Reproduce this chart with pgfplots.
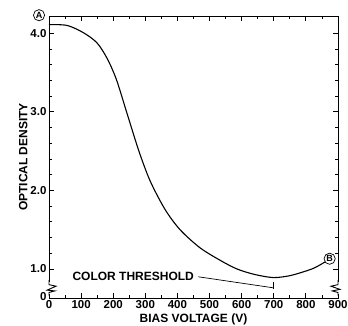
\documentclass[border=0pt]{standalone}
\usepackage{fontspec}
\setmainfont{Liberation Sans}
\usepackage{pgfplots}
\pgfplotsset{compat=1.18}
\begin{document}
\begin{tikzpicture}[font=\fontsize{12}{14}\selectfont\bfseries]
  \begin{axis}[
    scale only axis,
    width=289pt, height=282pt,
    xmin=0, xmax=900,
    ymin=0.63, ymax=4.22,
    axis line style={line width=0.9pt},
    xtick={0,100,...,900},
    minor xtick={50,150,...,850},
    ytick={0.63,1,2,3,4},
    yticklabels={\raisebox{2.5pt}{0},1.0,2.0,3.0,4.0},
    minor ytick={1.2,1.4,1.6,1.8,2.2,2.4,2.6,2.8,3.2,3.4,3.6,3.8},
    tick align=inside,
    major tick length=5pt, minor tick length=3pt,
    every tick/.style={black, line width=0.8pt},
    /pgf/number format/assume math mode=true,
    xticklabel style={font=\fontsize{11.5}{13}\selectfont\bfseries, inner sep=1pt, yshift=-1pt},
    yticklabel style={font=\fontsize{11.5}{13}\selectfont\bfseries, xshift=1pt},
    xlabel={BIAS VOLTAGE (V)},
    ylabel={OPTICAL DENSITY},
    xlabel style={font=\fontsize{12}{14}\selectfont\bfseries, inner sep=0pt,
      at={(axis description cs:0.5,0)}, anchor=north, yshift=-16pt},
    ylabel style={font=\fontsize{12}{14}\selectfont\bfseries, yshift=-4pt},
    clip=false,
  ]
    \addplot[black, line width=1.1pt, smooth] coordinates {
      (0,4.11) (56,4.10) (106,4.01) (149,3.88) (181,3.68) (210,3.41) (243,2.98)
      (280,2.50) (315,2.12) (361,1.76) (408,1.50) (470,1.27) (533,1.11)
      (585,1.00) (640,0.93) (698,0.89) (745,0.91) (782,0.95) (825,1.01) (860,1.09)
    };
    % broken-axis marks
    \draw[white, line width=3pt] (axis cs:0,0.68) -- (axis cs:0,0.84);
    \draw[black, line width=0.9pt] (axis cs:0,0.86) -- (axis cs:0,0.80)
      -- (axis cs:22,0.78) -- (axis cs:-6,0.73) -- (axis cs:18,0.72) -- (axis cs:0,0.70) -- (axis cs:0,0.66);
    \draw[white, line width=3pt] (axis cs:900,0.68) -- (axis cs:900,0.84);
    \draw[black, line width=0.9pt] (axis cs:900,0.86) -- (axis cs:900,0.80)
      -- (axis cs:878,0.78) -- (axis cs:906,0.74) -- (axis cs:882,0.72) -- (axis cs:900,0.70) -- (axis cs:900,0.66);
    % circled markers
    \node[draw, circle, line width=0.7pt, inner sep=0.8pt, font=\fontsize{9}{10}\selectfont\bfseries]
      at (axis cs:-31,4.23) {A};
    \node[draw, circle, line width=0.7pt, inner sep=0.8pt, font=\fontsize{9}{10}\selectfont\bfseries]
      at (axis cs:874,1.13) {B};
    % colour threshold annotation
    \node[anchor=east, inner sep=1pt, font=\fontsize{12}{14}\selectfont\bfseries]
      (ct) at (axis cs:455,0.90) {COLOR THRESHOLD};
    \draw[black, line width=0.7pt] (axis cs:465,0.90) -- (axis cs:698,0.76);
    \draw[black, line width=0.7pt] (axis cs:700,0.75) -- (axis cs:700,0.84);
  \end{axis}
  \pgfresetboundingbox
  \path (current axis.south west) ++(-49pt,-28pt) rectangle ([shift={(10pt,16pt)}]current axis.north east);
\end{tikzpicture}
\end{document}
